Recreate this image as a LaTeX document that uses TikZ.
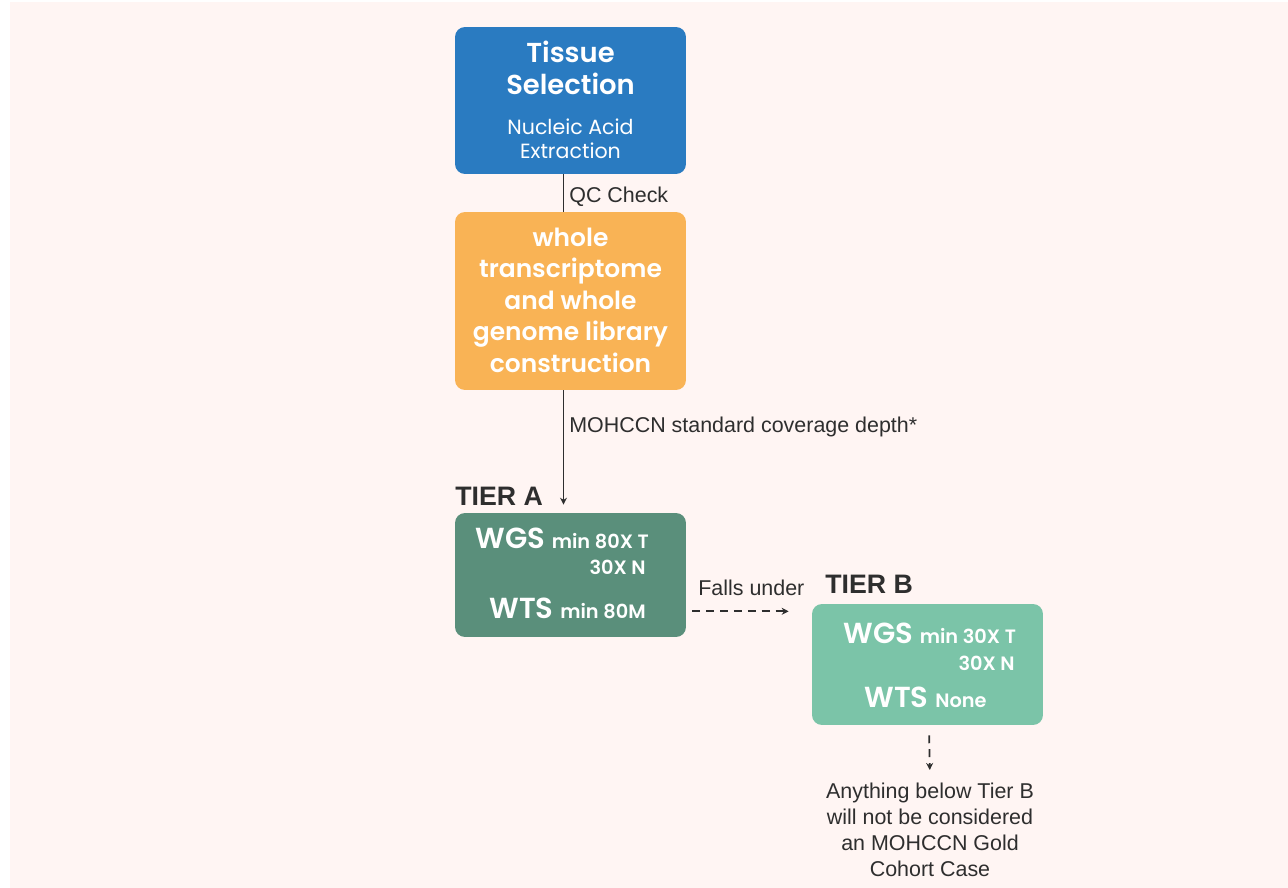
\documentclass[tikz,border=0pt]{standalone}
\usepackage{fontspec}
\setmainfont{Poppins}[BoldFont={Poppins SemiBold}]
\newfontfamily\labelfont{Liberation Sans}
\usepackage{tikz}
\usetikzlibrary{arrows.meta, positioning}

\definecolor{bgpink}{HTML}{FFF5F3}
\definecolor{selblue}{HTML}{2A7BC1}
\definecolor{liborange}{HTML}{F9B355}
\definecolor{tieragreen}{HTML}{5A8F7B}
\definecolor{tierbgreen}{HTML}{7BC4A8}
\definecolor{inkdark}{HTML}{2E2E2E}

\tikzset{
  stagebox/.style={rounded corners=0.2cm, minimum width=4.62cm, inner sep=0pt},
  boxtext/.style={text=white, align=center, inner sep=0pt},
  sidelabel/.style={text=inkdark, inner sep=0pt, font=\labelfont\fontsize{12.2}{14}\selectfont},
  tierlabel/.style={text=inkdark, inner sep=0pt, font=\labelfont\bfseries\fontsize{15.2}{17}\selectfont},
  flowline/.style={draw=inkdark, line width=1.1pt},
  dashflow/.style={draw=inkdark, line width=1pt, dash pattern=on 4.5pt off 3.4pt, -{Stealth[length=4pt,width=4pt]}}
}

\newcommand{\bigtxt}{\fontsize{16.5}{18}\selectfont\bfseries}
\newcommand{\smalltxt}{\fontsize{11}{12}\selectfont\bfseries}

\begin{document}
\begin{tikzpicture}[x=0.02cm, y=-0.02cm]
% Fond
\useasboundingbox (0,0) rectangle (1288,888);
\fill[bgpink] (10,2) rectangle (1288,888);

% Selectie tesut
\node[stagebox, fill=selblue, minimum height=2.94cm] (sel) at (570.5,100.5) {};
\node[boxtext, font=\fontsize{15.6}{18.1}\selectfont\bfseries] (seltitle) at (570.5,68) {Tissue\\Selection};
\node[boxtext, font=\fontsize{11.7}{13.6}\selectfont] (selsub) at (570.5,139) {Nucleic Acid\\Extraction};

% Constructie biblioteca
\node[stagebox, fill=liborange, minimum height=3.56cm] (lib) at (570.5,301) {};
\node[boxtext, font=\fontsize{14.2}{17.9}\selectfont\bfseries] (libtext) at (570.5,300)
  {whole\\transcriptome\\and whole\\genome library\\construction};

% Tier A
\node[stagebox, fill=tieragreen, minimum height=2.48cm] (tierA) at (570.5,575) {};
\node[tierlabel, anchor=base west] (tierAlabel) at (455,505) {TIER A};
\node[boxtext, anchor=base west] (tierAwgs) at (475,548) {\bigtxt WGS \smalltxt min 80X T};
\node[boxtext, anchor=base east] (tierAn) at (646,574) {\smalltxt 30X N};
\node[boxtext, anchor=base east] (tierAwts) at (646,618) {\bigtxt WTS \smalltxt min 80M};

% Tier B
\node[stagebox, fill=tierbgreen, minimum height=2.42cm] (tierB) at (927.5,664.5) {};
\node[tierlabel, anchor=base west] (tierBlabel) at (825,593) {TIER B};
\node[boxtext, anchor=base west] (tierBwgs) at (843,643) {\bigtxt WGS \smalltxt min 30X T};
\node[boxtext, anchor=base east] (tierBn) at (1015,670) {\smalltxt 30X N};
\node[boxtext, anchor=base west] (tierBwts) at (864,707) {\bigtxt WTS \smalltxt None};

% Nota finala
\node[sidelabel, align=center, anchor=north, font=\labelfont\fontsize{12.2}{14.7}\selectfont] (below) at (930,783)
  {Anything below Tier B\\will not be considered\\an MOHCCN Gold\\Cohort Case};

% Conexiuni
\draw[flowline] ([xshift=-0.14cm]sel.south) -- ([xshift=-0.14cm]lib.north);
\node[sidelabel, anchor=base west] (qc) at (569,203) {QC Check};
\draw[flowline, -{Stealth[length=4pt,width=4pt]}, shorten >=0.16cm] ([xshift=-0.14cm]lib.south) -- ([xshift=-0.14cm]tierA.north);
\node[sidelabel, anchor=base west] (depth) at (569,433) {MOHCCN standard coverage depth*};
\draw[dashflow] ([shift={(0.12cm,0.52cm)}]tierA.south east) -- ([shift={(-0.46cm,0.52cm)}]tierA.south east -| tierB.west);
\node[sidelabel, anchor=base west] (falls) at (698,595) {Falls under};
\draw[dashflow, shorten <=0.2cm, shorten >=0.26cm] ([xshift=0.03cm]tierB.south) -- ([xshift=0.0cm]below.north);

\end{tikzpicture}
\end{document}
